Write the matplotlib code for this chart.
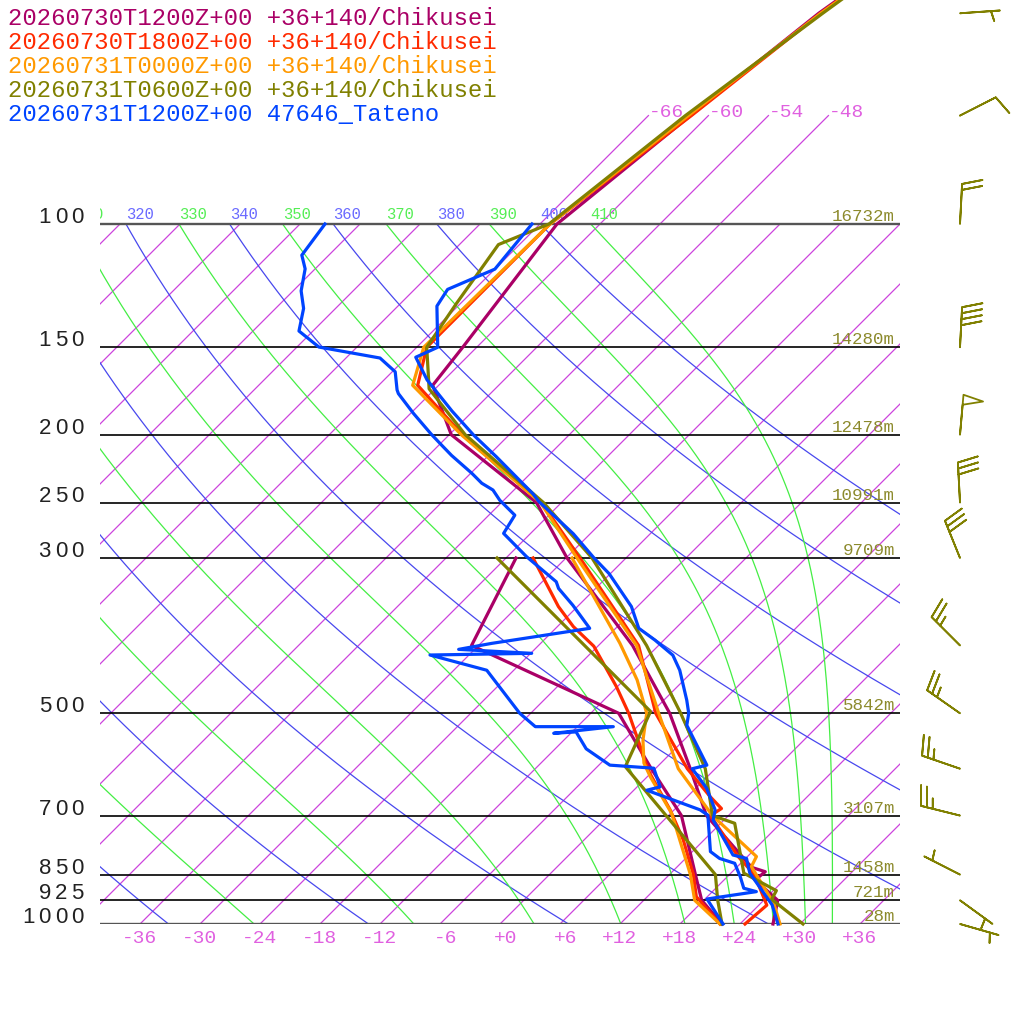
#!/usr/bin/env python3
"""Skew-T log-p chart: four model profiles at +36+140/Chikusei and the 47646 Tateno sonde."""
import numpy as np
import matplotlib
matplotlib.use("Agg")
import matplotlib.pyplot as plt
from matplotlib.transforms import Affine2D

OUT = "out.png"

# ---- profiles (hPa, degC) ---------------------------------------------------
# 20260730T1200Z model
P_A = [1000, 925, 865, 842, 830, 700, 600, 500, 400, 300, 250, 200, 170, 150, 100, 70, 50, 30]
T_A = [27.3, 25.4, 21.1, 21.3, 19.5, 9.8, 3.5, -4.1, -14.6, -29.9, -38.5, -53.8, -60.6, -61.4,
       -64.3, -61.8, -59.2, -53.0]
PD_A = [1000, 925, 850, 700, 600, 500, 400, 300]
TD_A = [22.2, 17.8, 14.6, 7.3, -0.4, -9.2, -30.7, -35.0]

# 20260730T1800Z model
P_B = [1000, 940, 850, 800, 700, 684, 658, 600, 500, 400, 300, 250, 200, 170, 150, 100, 70, 50, 30]
T_B = [24.5, 24.8, 20.5, 17.0, 10.2, 10.6, 8.3, 3.2, -5.5, -14.0, -28.6, -38.0, -52.7, -62.1, -65.0,
       -65.0, -61.7, -59.0, -53.0]
PD_B = [1000, 914, 850, 758, 687, 609, 577, 558, 500, 458, 401, 376, 352, 300]
TD_B = [22.0, 16.9, 14.4, 9.9, 5.6, -0.1, -2.4, -3.7, -8.2, -12.1, -18.4, -22.4, -25.9, -33.3]

# 20260731T0000Z model
P_C = [1000, 934, 828, 801, 700, 600, 500, 400, 300, 250, 200, 170, 150, 100, 70, 50, 30]
T_C = [28.0, 25.3, 19.4, 18.9, 10.4, 2.3, -5.2, -14.2, -28.9, -38.1, -52.8, -62.6, -65.3, -65.0,
       -62.0, -59.0, -53.0]
PD_C = [1000, 925, 850, 695, 616, 589, 546, 500, 448, 397, 300]
TD_C = [22.0, 17.1, 14.1, 6.1, 0.3, -1.7, -4.1, -6.4, -10.7, -16.1, -29.4]

# 20260731T0600Z model
P_D = [1000, 922, 896, 846, 718, 700, 600, 500, 400, 300, 250, 200, 172, 150, 130, 107, 100, 70, 50, 30]
T_D = [30.3, 24.7, 24.3, 19.3, 13.4, 10.4, 5.0, -3.0, -13.2, -27.4, -37.8, -52.4, -60.6, -65.0,
       -66.4, -68.1, -65.1, -62.3, -58.8, -53.0]
PD_D = [1000, 925, 850, 596, 497, 300]
TD_D = [22.2, 19.4, 16.6, -3.2, -6.2, -36.9]

# 20260731T1200Z Tateno radiosonde
P_E = [1000, 939, 914, 846, 824, 806, 797, 710, 687, 640, 600, 593, 520, 500, 479, 434, 413, 393,
       378, 352, 316, 300, 277, 249, 243, 215, 200, 185, 167, 155, 150, 131, 124, 116, 100]
T_E = [27.8, 25.3, 23.9, 19.9, 18.9, 18.1, 16.4, 10.9, 10.1, 7.1, 3.7, 4.8, -1.2, -2.2, -3.7, -7.4,
       -9.6, -12.9, -15.7, -18.6, -24.1, -27.2, -31.7, -38.4, -39.7, -47.1, -51.6, -56.1, -61.7,
       -65.1, -63.9, -68.1, -68.7, -66.0, -66.8]
PD_E = [1000, 921, 899, 889, 856, 819, 806, 788, 699, 687, 644, 637, 599, 593, 562, 531.6, 534,
        522.5, 522.5, 500, 434, 412.8, 410.5, 405.2, 397.3, 378.1, 350.4, 331.6, 324.4, 298.6,
        276.7, 260.6, 248.1, 239.9, 234.6, 227, 214.1, 207.4, 199.5, 186.5, 174.7, 172.6, 162.6,
        155.4, 149.9, 142.2, 132.0, 124.6, 115.9, 110.8, 100]
TD_E = [22.3, 18.2, 22.4, 20.8, 19.3, 17.4, 15.4, 13.8, 9.9, 8.6, 1.3, 2.3, -0.2, -4.9, -8.9, -11.6,
        -13.7, -8.4, -16.2, -19.1, -26.7, -33.9, -23.9, -31.6, -28.9, -20.6, -24.6, -27.7, -28.6,
        -34.1, -38.7, -39.4, -42.4, -44.1, -45.9, -47.9, -51.7, -53.6, -55.9, -59.7, -63.2, -63.7,
        -65.7, -68.6, -75.8, -79.4, -81.2, -83.2, -85.0, -86.7, -87.5]

LABELS = ["20260730T1200Z+00 +36+140/Chikusei",
          "20260730T1800Z+00 +36+140/Chikusei",
          "20260731T0000Z+00 +36+140/Chikusei",
          "20260731T0600Z+00 +36+140/Chikusei",
          "20260731T1200Z+00 47646_Tateno"]
COLORS = ["#aa0066", "#ff2a00", "#ff9900", "#808000", "#0044ff"]
PROFILES = [(P_A, T_A, PD_A, TD_A), (P_B, T_B, PD_B, TD_B), (P_C, T_C, PD_C, TD_C),
            (P_D, T_D, PD_D, TD_D), (P_E, T_E, PD_E, TD_E)]

# standard levels with geopotential heights (Tateno)
P_STD = [1000, 925, 850, 700, 500, 300, 250, 200, 150, 100]
Z_STD = ["28m", "721m", "1458m", "3107m", "5842m", "9709m", "10991m", "12478m", "14280m", "16732m"]

# winds: pressure (hPa), speed (kt), direction (deg, from)
P_WIND = [1000, 925, 850, 700, 600, 500, 400, 300, 250, 200, 150, 100, 70, 50]
SPD_WIND = [5, 5, 5, 25, 25, 25, 25, 30, 30, 50, 40, 20, 10, 5]
DIR_WIND = [106, 126, 297, 284, 289, 305, 315, 338, 357, 5, 3, 3, 63, 86]

# ---- styling ---------------------------------------------------------------
C_ISO, C_ISO_TXT = "#cc44dd", "#e060e0"
C_DRY, C_DRY_TXT = "#4848ee", "#6a6aff"
C_WET, C_WET_TXT = "#44ee44", "#55ee55"
C_Z = "#8c8a2c"
C_WIND = "#808000"
MONO = "Liberation Mono"

W = 1024
P_TOP = 1000 * 10 ** (-924 / 700)   # figure top edge, 700 px per decade
KAPPA = 0.2857

fig = plt.figure(figsize=(W / 100, W / 100), dpi=100, facecolor="white")
ax = fig.add_axes([100 / W, 100 / W, 800 / W, 924 / W])
ax.set_yscale("log")
ax.set_ylim(1000, P_TOP)
ax.set_xlim(-40, 40)
ax.axis("off")

# 45 deg skew applied in display space, anchored on the 1000 hPa line
y0 = ax.transAxes.transform((0, 0))[1]
skew = ax.transData + Affine2D().translate(0, -y0).skew_deg(45, 0).translate(0, y0)


def theta_e_sat(T, p):
    """Bolton (1980) equivalent potential temperature of saturated air."""
    tc = T - 273.15
    es = 6.112 * np.exp(17.67 * tc / (tc + 243.5))
    r = 622.0 * es / (p - es)
    return (T * (1000.0 / p) ** (0.2854 * (1 - 0.28e-3 * r))
            * np.exp((3.376 / T - 0.00254) * r * (1 + 0.81e-3 * r)))


def moist_T(the, p):
    lo = np.full_like(p, 150.0)
    hi = np.full_like(p, 310.0)
    for _ in range(60):
        mid = 0.5 * (lo + hi)
        above = theta_e_sat(mid, p) > the
        hi = np.where(above, mid, hi)
        lo = np.where(above, lo, mid)
    return 0.5 * (lo + hi) - 273.15


def theta_label(text, t100, color):
    # left edge of the label sits where the line crosses 100 hPa
    x_px = skew.transform((t100, 100))[0]
    if x_px < ax.bbox.x0 - 20:
        # only the last digit peeks past the left edge (e.g. "310")
        text = text[-1]
        dx = 2 * 9.3
    else:
        dx = 0
    a = ax.annotate(text, xy=(t100, 100), xycoords=skew, xytext=(dx, 5),
                    textcoords="offset pixels", ha="left", va="baseline",
                    fontsize=11.2, family=MONO, color=color)
    a.set_clip_box(ax.bbox)
    a.set_clip_on(True)


pp = np.geomspace(1000, 100, 240)

# isotherms
for t in range(-114, 40, 6):
    ptop = 70 if t in (-66, -60, -54, -48) else 100
    ax.plot([t, t], [1000, ptop], transform=skew, color=C_ISO, lw=0.9, zorder=1)
    if ptop == 70:
        ax.annotate(f"{t:+d}", xy=(t, 70), xycoords=skew, xytext=(0, -1),
                    textcoords="offset pixels", ha="left", va="baseline",
                    fontsize=14, family=MONO, color=C_ISO_TXT)

# dry adiabats
for th in range(240, 401, 20):
    ax.plot(th * (pp / 1000) ** KAPPA - 273.15, pp, transform=skew, color=C_DRY, lw=0.9, zorder=1)
for th in range(320, 401, 20):
    theta_label(str(th), th * 0.1 ** KAPPA - 273.15, C_DRY_TXT)

# moist adiabats
for the in range(250, 411, 20):
    ax.plot(moist_T(the, pp), pp, transform=skew, color=C_WET, lw=0.9, zorder=1)
for the in range(310, 411, 20):
    theta_label(str(the), moist_T(float(the), np.array([100.0]))[0], C_WET_TXT)

# pressure levels
for p, z in zip(P_STD, Z_STD):
    edge = p in (1000, 100)
    ax.plot([-40, 40], [p, p], color="#555555" if edge else "black",
            lw=1.7 if edge else 1.2, zorder=2)
    ax.annotate(z, xy=(795 / 800, p), xycoords=ax.get_yaxis_transform(), xytext=(0, 3),
                textcoords="offset pixels", ha="right", va="baseline",
                fontsize=12.6, family=MONO, color=C_Z, zorder=6)
    s = str(p)
    pitch = 16.5
    for k, ch in enumerate(s):
        cx = 86 - pitch / 2 - (len(s) - 1 - k) * pitch
        ax.annotate(ch, xy=(0, p), xycoords=ax.get_yaxis_transform(), xytext=(cx - 100, 1),
                    textcoords="offset pixels", ha="center", va="baseline",
                    fontsize=16, family="Liberation Sans", color="#222222",
                    annotation_clip=False)

# temperature labels along the 1000 hPa line
for t in range(-36, 37, 6):
    ax.annotate(f"{t:+d}", xy=(t, 1000), xycoords="data", xytext=(17, -19),
                textcoords="offset pixels", ha="right", va="baseline",
                fontsize=14, family=MONO, color=C_ISO_TXT, annotation_clip=False)

# profiles: temperature and dew point per run
for (pt, tt, pd_, td), c in zip(PROFILES, COLORS):
    ax.plot(tt, pt, transform=skew, color=c, lw=2.3, clip_on=False, zorder=5)
    ax.plot(td, pd_, transform=skew, color=c, lw=2.3, clip_on=False, zorder=5)

for i, (lab, c) in enumerate(zip(LABELS, COLORS)):
    fig.text(8 / W, 1 - (25 + 24 * i) / W, lab, ha="left", va="baseline",
             fontsize=17.2, family=MONO, color=c)

# wind barbs
bx = fig.add_axes([930 / W, 100 / W, 60 / W, 924 / W])
bx.set_yscale("log")
bx.set_ylim(1000, P_TOP)
bx.set_xlim(0, 1)
bx.axis("off")
spd = np.array(SPD_WIND, float)
rad = np.deg2rad(DIR_WIND)
u = -spd * np.sin(rad)
v = -spd * np.cos(rad)
bx.barbs(np.full(len(P_WIND), 0.5), P_WIND, u, v, length=7.6, barbcolor=C_WIND,
         flagcolor="white", linewidth=1.3, clip_on=False,
         sizes=dict(height=0.5, spacing=0.15, width=0.25))

fig.savefig(OUT, dpi=100, facecolor="white")
